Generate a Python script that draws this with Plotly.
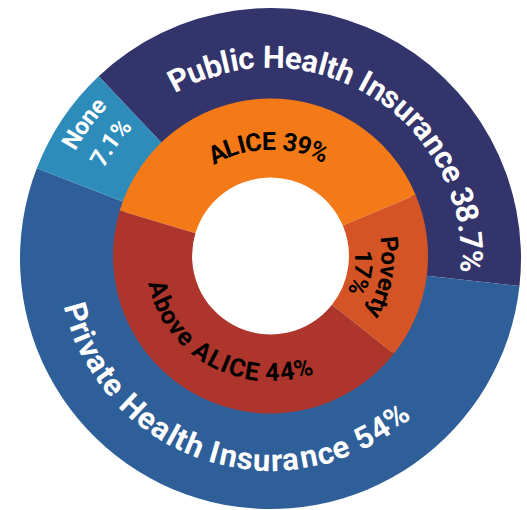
import math
import plotly.graph_objects as go

# ---------------- data ----------------
outer_labels = ["Public Health Insurance", "Private Health Insurance", "None"]
outer_values = [38.7, 54, 7.1]
inner_labels = ["ALICE", "Poverty", "Above ALICE"]
inner_values = [39, 17, 44]

# ---------------- style ----------------
W, H = 527, 510
FONT = "Roboto"
outer_colors = ["#32346b", "#2f5f99", "#2e8cbb"]
inner_colors = ["#f47a17", "#d45426", "#ad352b"]

OUT_C, OUT_R, OUT_HOLE, OUT_START = (270.5, 258.5), 250.5, 0.61, 316.7
IN_C, IN_R, IN_HOLE, IN_START = (270.5, 256.0), 157.5, 0.498, 286.8

# label layout per slice: line break after name?, radii of lines, font size,
# colour, read along bottom (flip), angular nudge (deg), letter spacing
label_style = {
    "Public Health Insurance": dict(split=False, radii=[201], size=31, color="white", flip=False, nudge=5.5, sp=0.5),
    "Private Health Insurance": dict(split=False, radii=[202], size=31, color="white", flip=True, nudge=4.0, sp=0.5),
    "None": dict(split=True, radii=[231, 198], size=24, color="white", flip=False, nudge=2.0, sp=0.3),
    "ALICE": dict(split=False, radii=[115], size=25, color="black", flip=False, nudge=2.0, sp=0.3),
    "Poverty": dict(split=True, radii=[119, 93], size=24, color="black", flip=False, nudge=3.0, sp=0.3),
    "Above ALICE": dict(split=False, radii=[117], size=25, color="black", flip=True, nudge=1.0, sp=0.3),
}

# approximate Roboto Bold advance widths (em)
CW = {" ": 0.244, "P": 0.633, "u": 0.553, "b": 0.562, "l": 0.262, "i": 0.262, "c": 0.525,
      "H": 0.703, "e": 0.530, "a": 0.545, "t": 0.335, "h": 0.553, "I": 0.292, "n": 0.553,
      "s": 0.516, "r": 0.353, ".": 0.279, "%": 0.733, "v": 0.495, "A": 0.655, "L": 0.539,
      "C": 0.652, "E": 0.566, "o": 0.562, "N": 0.703, "y": 0.495}
for d in "0123456789":
    CW[d] = 0.562


def norm180(a):
    return (a + 180.0) % 360.0 - 180.0


def arc_chars(text, theta_mid, r, center, size, color, flip, sp):
    cx, cy = center
    widths = [CW.get(ch, 0.55) * size for ch in text]
    total = sum(widths) + sp * (len(text) - 1)
    s = -total / 2.0
    anns = []
    d = -1 if flip else 1
    for ch, w in zip(text, widths):
        sc = s + w / 2.0
        s += w + sp
        if ch == " ":
            continue
        th = theta_mid + d * math.degrees(sc / r)
        rad = math.radians(th)
        px = cx + r * math.sin(rad)
        py = cy - r * math.cos(rad)
        ang = norm180(th - 180.0 if flip else th)
        anns.append(dict(
            x=px / W, y=1 - py / H, xref="paper", yref="paper",
            text=ch, showarrow=False, xanchor="center", yanchor="middle",
            textangle=ang,
            font=dict(family=FONT, size=size, color=color, weight=700),
        ))
    return anns


def ring_annotations(labels, values, start, center):
    total = sum(values)
    anns = []
    acc = 0.0
    for lab, v in zip(labels, values):
        a0 = start + acc / total * 360.0
        acc += v
        a1 = start + acc / total * 360.0
        st = label_style[lab]
        mid = (a0 + a1) / 2.0 + st["nudge"]
        pct = f"{v:g}%"
        lines = [lab, pct] if st["split"] else [f"{lab} {pct}"]
        for line, r in zip(lines, st["radii"]):
            anns += arc_chars(line, mid, r, center, st["size"], st["color"], st["flip"], st["sp"])
    return anns


def domain(center, r):
    cx, cy = center
    return dict(x=[(cx - r) / W, (cx + r) / W], y=[1 - (cy + r) / H, 1 - (cy - r) / H])


fig = go.Figure()
fig.add_trace(go.Pie(
    labels=outer_labels, values=outer_values, hole=OUT_HOLE, sort=False,
    direction="clockwise", rotation=norm180(OUT_START), textinfo="none",
    marker=dict(colors=outer_colors, line=dict(width=0)),
    domain=domain(OUT_C, OUT_R), showlegend=False,
))
fig.add_trace(go.Pie(
    labels=inner_labels, values=inner_values, hole=IN_HOLE, sort=False,
    direction="clockwise", rotation=norm180(IN_START), textinfo="none",
    marker=dict(colors=inner_colors, line=dict(width=0)),
    domain=domain(IN_C, IN_R), showlegend=False,
))

annotations = ring_annotations(outer_labels, outer_values, OUT_START, OUT_C)
annotations += ring_annotations(inner_labels, inner_values, IN_START, IN_C)

fig.update_layout(
    width=W, height=H,
    margin=dict(l=0, r=0, t=0, b=0),
    paper_bgcolor="white", plot_bgcolor="white",
    annotations=annotations,
    showlegend=False,
)

fig.write_html(
    "out.html",
    config={"displayModeBar": False},
    post_script="document.body.style.margin='0';document.body.style.overflow='hidden';",
)
